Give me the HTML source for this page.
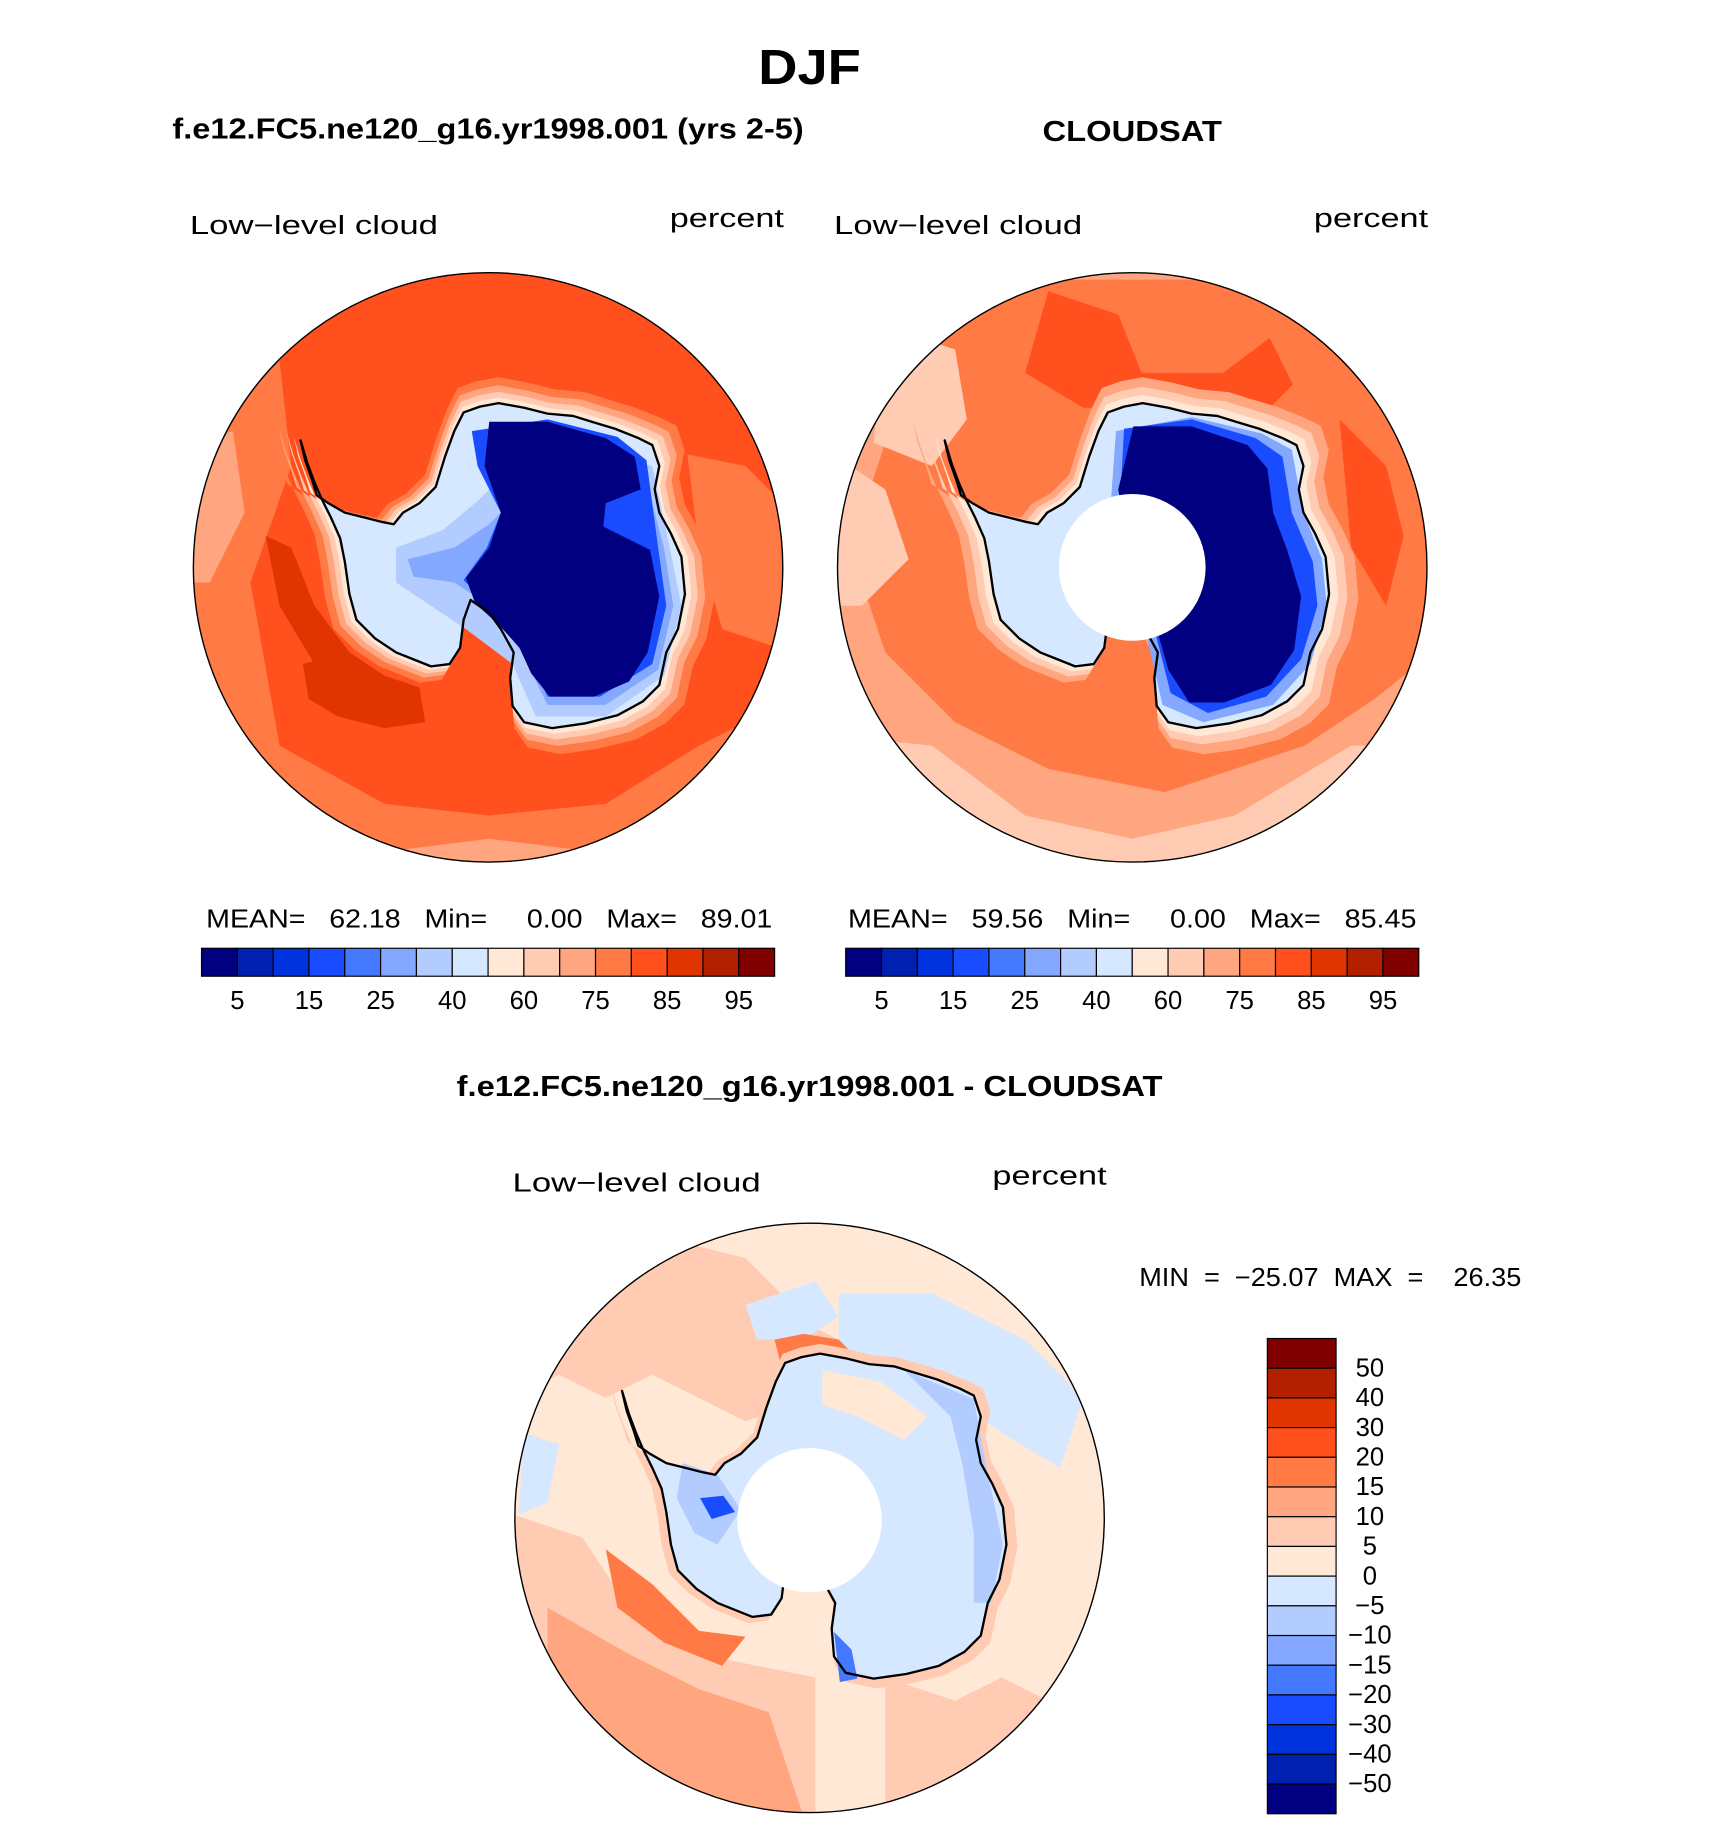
<!DOCTYPE html>
<html><head><meta charset="utf-8"><style>
html,body{margin:0;padding:0;background:#fff}
svg{display:block}
text{font-family:"Liberation Sans",sans-serif;fill:#000;white-space:pre}
.t{font-weight:bold}
.lab{font-size:22px}
</style></head><body>
<svg id="fig" width="1710" height="1839" viewBox="0 0 1468 1578.6" xmlns="http://www.w3.org/2000/svg">
<defs>
<path id="ant" d="M258,378 L262,395 L268,412 L272,425 L282,432 L296,440 L312,444 L328,448 L338,450 L346,440 L360,432 L374,418 L382,392 L390,370 L398,354 L412,349 L428,346 L450,350 L470,355 L492,357 L508,362 L528,368 L548,376 L560,382 L566,400 L562,420 L566,440 L576,458 L585,478 L588,510 L582,540 L572,560 L566,588 L552,602 L530,614 L502,621 L474,625 L450,620 L440,606 L438,582 L441,560 L430,540 L420,526 L404,515 L398,532 L395,556 L386,570 L370,572 L355,566 L340,560 L322,548 L306,532 L300,510 L296,482 L292,462 L284,444 L276,428 L270,414 L264,398 Z"/>
<clipPath id="c1"><circle cx="419" cy="487" r="253"/></clipPath>
<clipPath id="c2"><circle cx="972" cy="487" r="253"/></clipPath>
<clipPath id="c3"><circle cx="695" cy="1303" r="253"/></clipPath>
</defs>

<text class="t" x="651" y="72" font-size="42" textLength="88" lengthAdjust="spacingAndGlyphs">DJF</text>
<text class="t" x="148" y="119" font-size="25" textLength="542" lengthAdjust="spacingAndGlyphs">f.e12.FC5.ne120_g16.yr1998.001 (yrs 2-5)</text>
<text class="t" x="895" y="121" font-size="25" textLength="154" lengthAdjust="spacingAndGlyphs">CLOUDSAT</text>
<text class="lab" x="163" y="201" textLength="213" lengthAdjust="spacingAndGlyphs">Low−level cloud</text>
<text class="lab" x="575" y="195" textLength="98" lengthAdjust="spacingAndGlyphs">percent</text>
<text class="lab" x="716" y="201" textLength="213" lengthAdjust="spacingAndGlyphs">Low−level cloud</text>
<text class="lab" x="1128" y="195" textLength="98" lengthAdjust="spacingAndGlyphs">percent</text>

<!-- left map -->
<g clip-path="url(#c1)" stroke-linejoin="round">
<circle cx="419" cy="487" r="253" fill="#ff501e"/>
<path d="M160,300 L240,310 L250,400 L215,500 L240,640 L330,690 L420,700 L520,690 L600,640 L680,600 L680,760 L160,760 Z" fill="#ff7a45"/>
<path d="M590,390 L640,400 L680,440 L680,560 L620,540 L600,470 Z" fill="#ff7a45"/>
<path d="M160,380 L200,370 L210,440 L180,500 L160,500 Z" fill="#ffa680"/>
<path d="M240,700 L340,730 L420,720 L500,730 L560,700 L620,660 L680,660 L680,760 L200,760 Z" fill="#ffa680"/>
<path d="M260,570 L300,560 L330,580 L360,590 L365,620 L330,625 L290,615 L265,600 Z" fill="#e03500"/>
<path d="M228,460 L250,470 L270,520 L300,560 L270,570 L240,520 Z" fill="#e03500"/>
<g transform="translate(430,485) scale(1.16) translate(-430,-485)"><use href="#ant" fill="#ff7a45"/></g>
<g transform="translate(430,485) scale(1.11) translate(-430,-485)"><use href="#ant" fill="#ffa680"/></g>
<g transform="translate(430,485) scale(1.07) translate(-430,-485)"><use href="#ant" fill="#ffcbb2"/></g>
<g transform="translate(430,485) scale(1.035) translate(-430,-485)"><use href="#ant" fill="#ffe8d6"/></g>
<use href="#ant" fill="#d6e8ff"/>
<path d="M340,470 L380,455 L410,430 L440,400 L470,380 L560,400 L575,470 L585,520 L570,580 L520,615 L460,615 L440,570 L400,540 L370,520 L340,500 Z" fill="#b3ccff"/>
<path d="M350,480 L390,470 L420,450 L440,430 L470,380 L550,395 L570,470 L578,520 L565,575 L520,605 L470,605 L448,560 L420,520 L390,500 L355,495 Z" fill="#84a8ff"/>
<path d="M405,370 L470,360 L530,375 L555,395 L565,470 L572,520 L560,570 L515,598 L470,598 L452,560 L420,520 L398,498 L418,470 L430,440 L410,400 Z" fill="#1a4cff"/>
<path d="M420,362 L470,362 L520,376 L545,392 L550,420 L520,432 L518,452 L558,472 L566,512 L556,560 L540,585 L510,598 L472,598 L456,578 L446,556 L428,536 L408,518 L400,496 L420,470 L430,440 L416,400 Z" fill="#000080"/>
<use href="#ant" fill="none" stroke="#000" stroke-width="2"/>
</g>
<circle cx="419" cy="487" r="253" fill="none" stroke="#000" stroke-width="1.2"/>

<!-- right map -->
<g clip-path="url(#c2)" stroke-linejoin="round">
<circle cx="972" cy="487" r="253" fill="#ffa680"/>
<path d="M800,240 L1150,240 L1200,360 L1230,420 L1230,560 L1180,600 L1120,640 L1000,680 L900,660 L820,620 L760,560 L730,470 L760,380 L800,320 Z" fill="#ff7a45"/>
<path d="M900,250 L960,270 L980,320 L1050,320 L1090,290 L1110,330 L1080,360 L1000,350 L930,350 L880,320 Z" fill="#ff501e"/>
<path d="M1150,360 L1190,400 L1205,460 L1190,520 L1160,470 Z" fill="#ff501e"/>
<path d="M700,380 L760,420 L780,480 L740,520 L700,520 Z" fill="#ffcbb2"/>
<path d="M700,630 L800,640 L880,700 L972,720 L1060,700 L1160,640 L1240,640 L1240,760 L700,760 Z" fill="#ffcbb2"/>
<path d="M760,280 L820,300 L830,360 L800,400 L750,380 Z" fill="#ffcbb2"/>
<g transform="translate(983,485) scale(1.16) translate(-430,-485)"><use href="#ant" fill="#ffa680"/></g>
<g transform="translate(983,485) scale(1.1) translate(-430,-485)"><use href="#ant" fill="#ffcbb2"/></g>
<g transform="translate(983,485) scale(1.05) translate(-430,-485)"><use href="#ant" fill="#ffe8d6"/></g>
<g transform="translate(553,0)">
<use href="#ant" fill="#d6e8ff"/>
<path d="M405,370 L470,358 L530,372 L556,386 L566,440 L582,480 L586,520 L572,570 L540,605 L480,620 L445,605 L430,540 L410,500 L400,440 Z" fill="#84a8ff"/>
<path d="M412,368 L470,360 L525,376 L548,392 L556,440 L574,482 L578,520 L564,566 L534,598 L484,612 L452,595 L438,540 L418,500 L408,440 Z" fill="#1a4cff"/>
<path d="M420,366 L470,366 L518,382 L535,402 L540,440 L552,472 L564,512 L558,558 L538,588 L498,603 L468,603 L450,575 L440,540 L428,508 L415,470 L407,420 Z" fill="#000080"/>
<use href="#ant" fill="none" stroke="#000" stroke-width="2"/>
</g>
<circle cx="972" cy="487" r="63" fill="#fff"/>
</g>
<circle cx="972" cy="487" r="253" fill="none" stroke="#000" stroke-width="1.2"/>

<text class="lab" x="177" y="796" font-size="20" textLength="486" lengthAdjust="spacingAndGlyphs">MEAN=   62.18   Min=     0.00   Max=   89.01</text>
<text class="lab" x="728" y="796" font-size="20" textLength="488" lengthAdjust="spacingAndGlyphs">MEAN=   59.56   Min=     0.00   Max=   85.45</text>
<g id="cb1"></g>
<g id="cb2"></g>

<text class="t" x="392" y="941" font-size="25" textLength="606" lengthAdjust="spacingAndGlyphs">f.e12.FC5.ne120_g16.yr1998.001 - CLOUDSAT</text>
<text class="lab" x="440" y="1023" textLength="213" lengthAdjust="spacingAndGlyphs">Low−level cloud</text>
<text class="lab" x="852" y="1017" textLength="98" lengthAdjust="spacingAndGlyphs">percent</text>
<text class="lab" x="978" y="1104" font-size="20" textLength="328" lengthAdjust="spacingAndGlyphs">MIN  =  −25.07  MAX  =    26.35</text>

<!-- difference map -->
<g clip-path="url(#c3)" stroke-linejoin="round">
<circle cx="695" cy="1303" r="253" fill="#ffe8d6"/>
<path d="M440,1100 L560,1060 L640,1080 L700,1140 L760,1170 L700,1200 L640,1220 L600,1200 L560,1180 L520,1200 L480,1180 L440,1200 Z" fill="#ffcbb2"/>
<path d="M440,1300 L500,1320 L540,1380 L600,1420 L700,1440 L700,1560 L440,1560 Z" fill="#ffcbb2"/>
<path d="M470,1380 L540,1420 L600,1450 L660,1470 L690,1560 L470,1560 Z" fill="#ffa680"/>
<path d="M520,1330 L560,1360 L600,1400 L640,1405 L620,1430 L570,1410 L530,1380 Z" fill="#ff7a45"/>
<path d="M760,1440 L820,1460 L860,1440 L900,1460 L900,1560 L760,1560 Z" fill="#ffcbb2"/>
<path d="M720,1110 L800,1110 L880,1150 L930,1200 L910,1260 L860,1230 L820,1200 L760,1190 L720,1150 Z" fill="#d6e8ff"/>
<path d="M640,1120 L700,1100 L720,1130 L690,1150 L650,1150 Z" fill="#d6e8ff"/>
<path d="M450,1230 L480,1240 L470,1290 L445,1300 Z" fill="#d6e8ff"/>
<path d="M665,1150 L690,1145 L720,1150 L735,1165 L700,1172 L670,1170 Z" fill="#ff7a45"/>
<g transform="translate(706,1301) scale(1.06) translate(-430,-485)"><use href="#ant" fill="#ffcbb2"/></g>
<g transform="translate(276,816)">
<use href="#ant" fill="#d6e8ff"/>
<path d="M310,440 L340,450 L360,480 L340,510 L320,500 L305,470 Z" fill="#b3ccff"/>
<path d="M325,470 L345,468 L355,482 L335,488 Z" fill="#1a4cff"/>
<path d="M500,360 L560,385 L570,440 L585,510 L575,560 L560,560 L560,500 L550,440 L540,400 Z" fill="#b3ccff"/>
<path d="M440,585 L455,600 L460,625 L445,628 Z" fill="#4478ff"/>
<path d="M400,460 L415,470 L420,520 L405,510 Z" fill="#ff7a45"/>
<path d="M430,360 L480,370 L520,400 L500,420 L460,400 L430,390 Z" fill="#ffe8d6"/>
<use href="#ant" fill="none" stroke="#000" stroke-width="2"/>
</g>
<circle cx="695" cy="1305" r="62" fill="#fff"/>
</g>
<circle cx="695" cy="1303" r="253" fill="none" stroke="#000" stroke-width="1.2"/>
<g id="cb3"></g>
</svg>
<script>
const levelColors = ["#000080","#0020b0","#0033dd","#1a4cff","#4478ff","#84a8ff","#b3ccff","#d6e8ff","#ffe8d6","#ffcbb2","#ffa680","#ff7a45","#ff501e","#e03500","#b32000","#800000"];
const absLabels = ["5","15","25","40","60","75","85","95"];
const diffLabels = ["50","40","30","20","15","10","5","0","−5","−10","−15","−20","−30","−40","−50"];
const NS = "http://www.w3.org/2000/svg";
function mk(tag, attrs, parent){const e=document.createElementNS(NS,tag);for(const k in attrs)e.setAttribute(k,attrs[k]);parent.appendChild(e);return e;}
function hbar(id, x0){
  const g=document.getElementById(id), w=492/levelColors.length;
  levelColors.forEach((c,i)=>{
    const r=mk("rect",{x:x0+i*w,y:814,width:w,height:24,fill:c,stroke:"#000","stroke-width":1},g);
    
    
  });
  absLabels.forEach((l,i)=>{
    const t=mk("text",{x:x0+(2*i+1)*w,y:866,"text-anchor":"middle","font-size":20,class:"lab"},g);
    t.textContent=l;
    
    
  });
}
hbar("cb1",173); hbar("cb2",726);
(function(){
  const g=document.getElementById("cb3"), h=408/levelColors.length, y0=1149;
  levelColors.slice().reverse().forEach((c,i)=>{
    const r=mk("rect",{x:1088,y:y0+i*h,width:59,height:h,fill:c,stroke:"#000","stroke-width":1},g);
    
    
  });
  diffLabels.forEach((l,i)=>{
    const t=mk("text",{x:1176,y:y0+(i+1)*h+7,"text-anchor":"middle","font-size":20,class:"lab"},g);
    t.textContent=l;
    
    
  });
})();
</script>
</body></html>
